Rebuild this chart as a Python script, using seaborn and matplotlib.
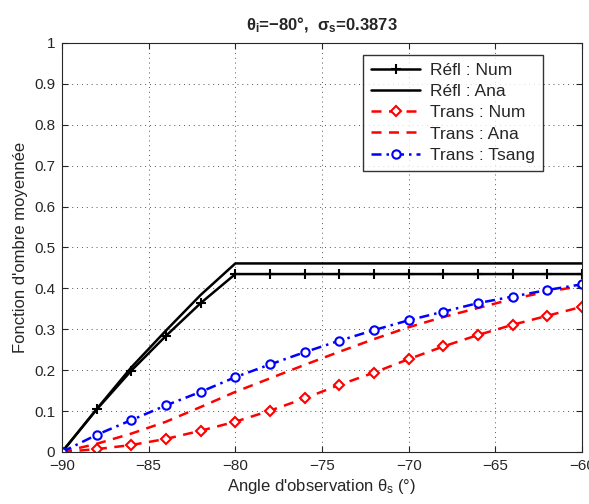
import numpy as np
import matplotlib
matplotlib.use("Agg")
import matplotlib.pyplot as plt
import seaborn as sns

# angles (deg)
theta = [-90, -88, -86, -84, -82, -80, -78, -76, -74, -72, -70, -68, -66, -64, -62, -60]

refl_num = [0, 0.104, 0.199, 0.284, 0.364, 0.435, 0.435, 0.435, 0.435, 0.435, 0.435, 0.435, 0.435, 0.435, 0.435, 0.435]
refl_ana = [0, 0.105, 0.207, 0.297, 0.384, 0.461, 0.461, 0.461, 0.461, 0.461, 0.461, 0.461, 0.461, 0.461, 0.461, 0.461]
trans_num = [0, 0.007, 0.017, 0.032, 0.052, 0.074, 0.101, 0.131, 0.164, 0.194, 0.227, 0.258, 0.286, 0.311, 0.333, 0.355]
trans_ana = [0, 0.020, 0.045, 0.074, 0.110, 0.147, 0.180, 0.213, 0.245, 0.276, 0.305, 0.330, 0.352, 0.374, 0.392, 0.406]
trans_tsang = [0, 0.042, 0.078, 0.114, 0.147, 0.183, 0.214, 0.244, 0.272, 0.298, 0.322, 0.343, 0.364, 0.380, 0.396, 0.410]

sns.set_style("ticks")
plt.rcParams['font.family'] = ['Liberation Sans', 'DejaVu Sans']
plt.rcParams['mathtext.fontset'] = 'custom'
plt.rcParams['mathtext.rm'] = 'Liberation Sans'
plt.rcParams['mathtext.it'] = 'Liberation Sans'
plt.rcParams['mathtext.bf'] = 'Liberation Sans:bold'
plt.rcParams['axes.unicode_minus'] = True

fig = plt.figure(figsize=(5.89, 5.04), dpi=100)
ax = fig.add_axes([0.1053, 0.1032, 0.8827, 0.8115])

sns.lineplot(x=theta, y=refl_num, ax=ax, color='black', lw=1.8, marker='+',
             markersize=7, markeredgewidth=1.5, markeredgecolor='black', label='Réfl : Num')
sns.lineplot(x=theta, y=refl_ana, ax=ax, color='black', lw=1.8, label='Réfl : Ana')
sns.lineplot(x=theta, y=trans_num, ax=ax, color='red', lw=1.8, linestyle=(0, (4, 3)),
             marker='D', markersize=5, markerfacecolor='white', markeredgecolor='red',
             markeredgewidth=1.5, label='Trans : Num')
sns.lineplot(x=theta, y=trans_ana, ax=ax, color='red', lw=1.8, linestyle=(0, (4, 3)),
             label='Trans : Ana')
sns.lineplot(x=theta, y=trans_tsang, ax=ax, color='blue', lw=1.8, linestyle=(0, (4, 2, 1, 2)),
             marker='o', markersize=6, markerfacecolor='white', markeredgecolor='blue',
             markeredgewidth=1.5, label='Trans : Tsang')

ax.set_xlim(-90, -60)
ax.set_ylim(0, 1)
ax.set_xticks(np.arange(-90, -59, 5))
ax.set_yticks(np.arange(0, 1.01, 0.1))
ax.set_yticklabels(['0', '0.1', '0.2', '0.3', '0.4', '0.5', '0.6', '0.7', '0.8', '0.9', '1'])
ax.tick_params(direction='in', top=True, right=True, labelsize=11, length=4, pad=5)
ax.grid(True, linestyle=(0, (1, 4)), color='#555555', linewidth=0.7)
for s in ax.spines.values():
    s.set_linewidth(0.8)
    s.set_visible(True)

ax.set_xlabel("Angle d'observation $\\theta_\\mathrm{s}$ (°)", fontsize=12, labelpad=3)
ax.set_ylabel("Fonction d'ombre moyennée", fontsize=12, labelpad=4)
ax.set_title("$\\mathbf{\\theta_i}$=−80°,  $\\mathbf{\\sigma_s}$=0.3873", fontsize=12,
             fontweight='bold', pad=9)

leg = ax.legend(loc='upper right', bbox_to_anchor=(0.925, 0.971), fontsize=12.5,
                frameon=True, fancybox=False, edgecolor='black', handlelength=2.8,
                borderpad=0.45, labelspacing=0.35, handletextpad=0.6, borderaxespad=0)
leg.get_frame().set_linewidth(1.0)

fig.savefig("out.png", dpi=100)
